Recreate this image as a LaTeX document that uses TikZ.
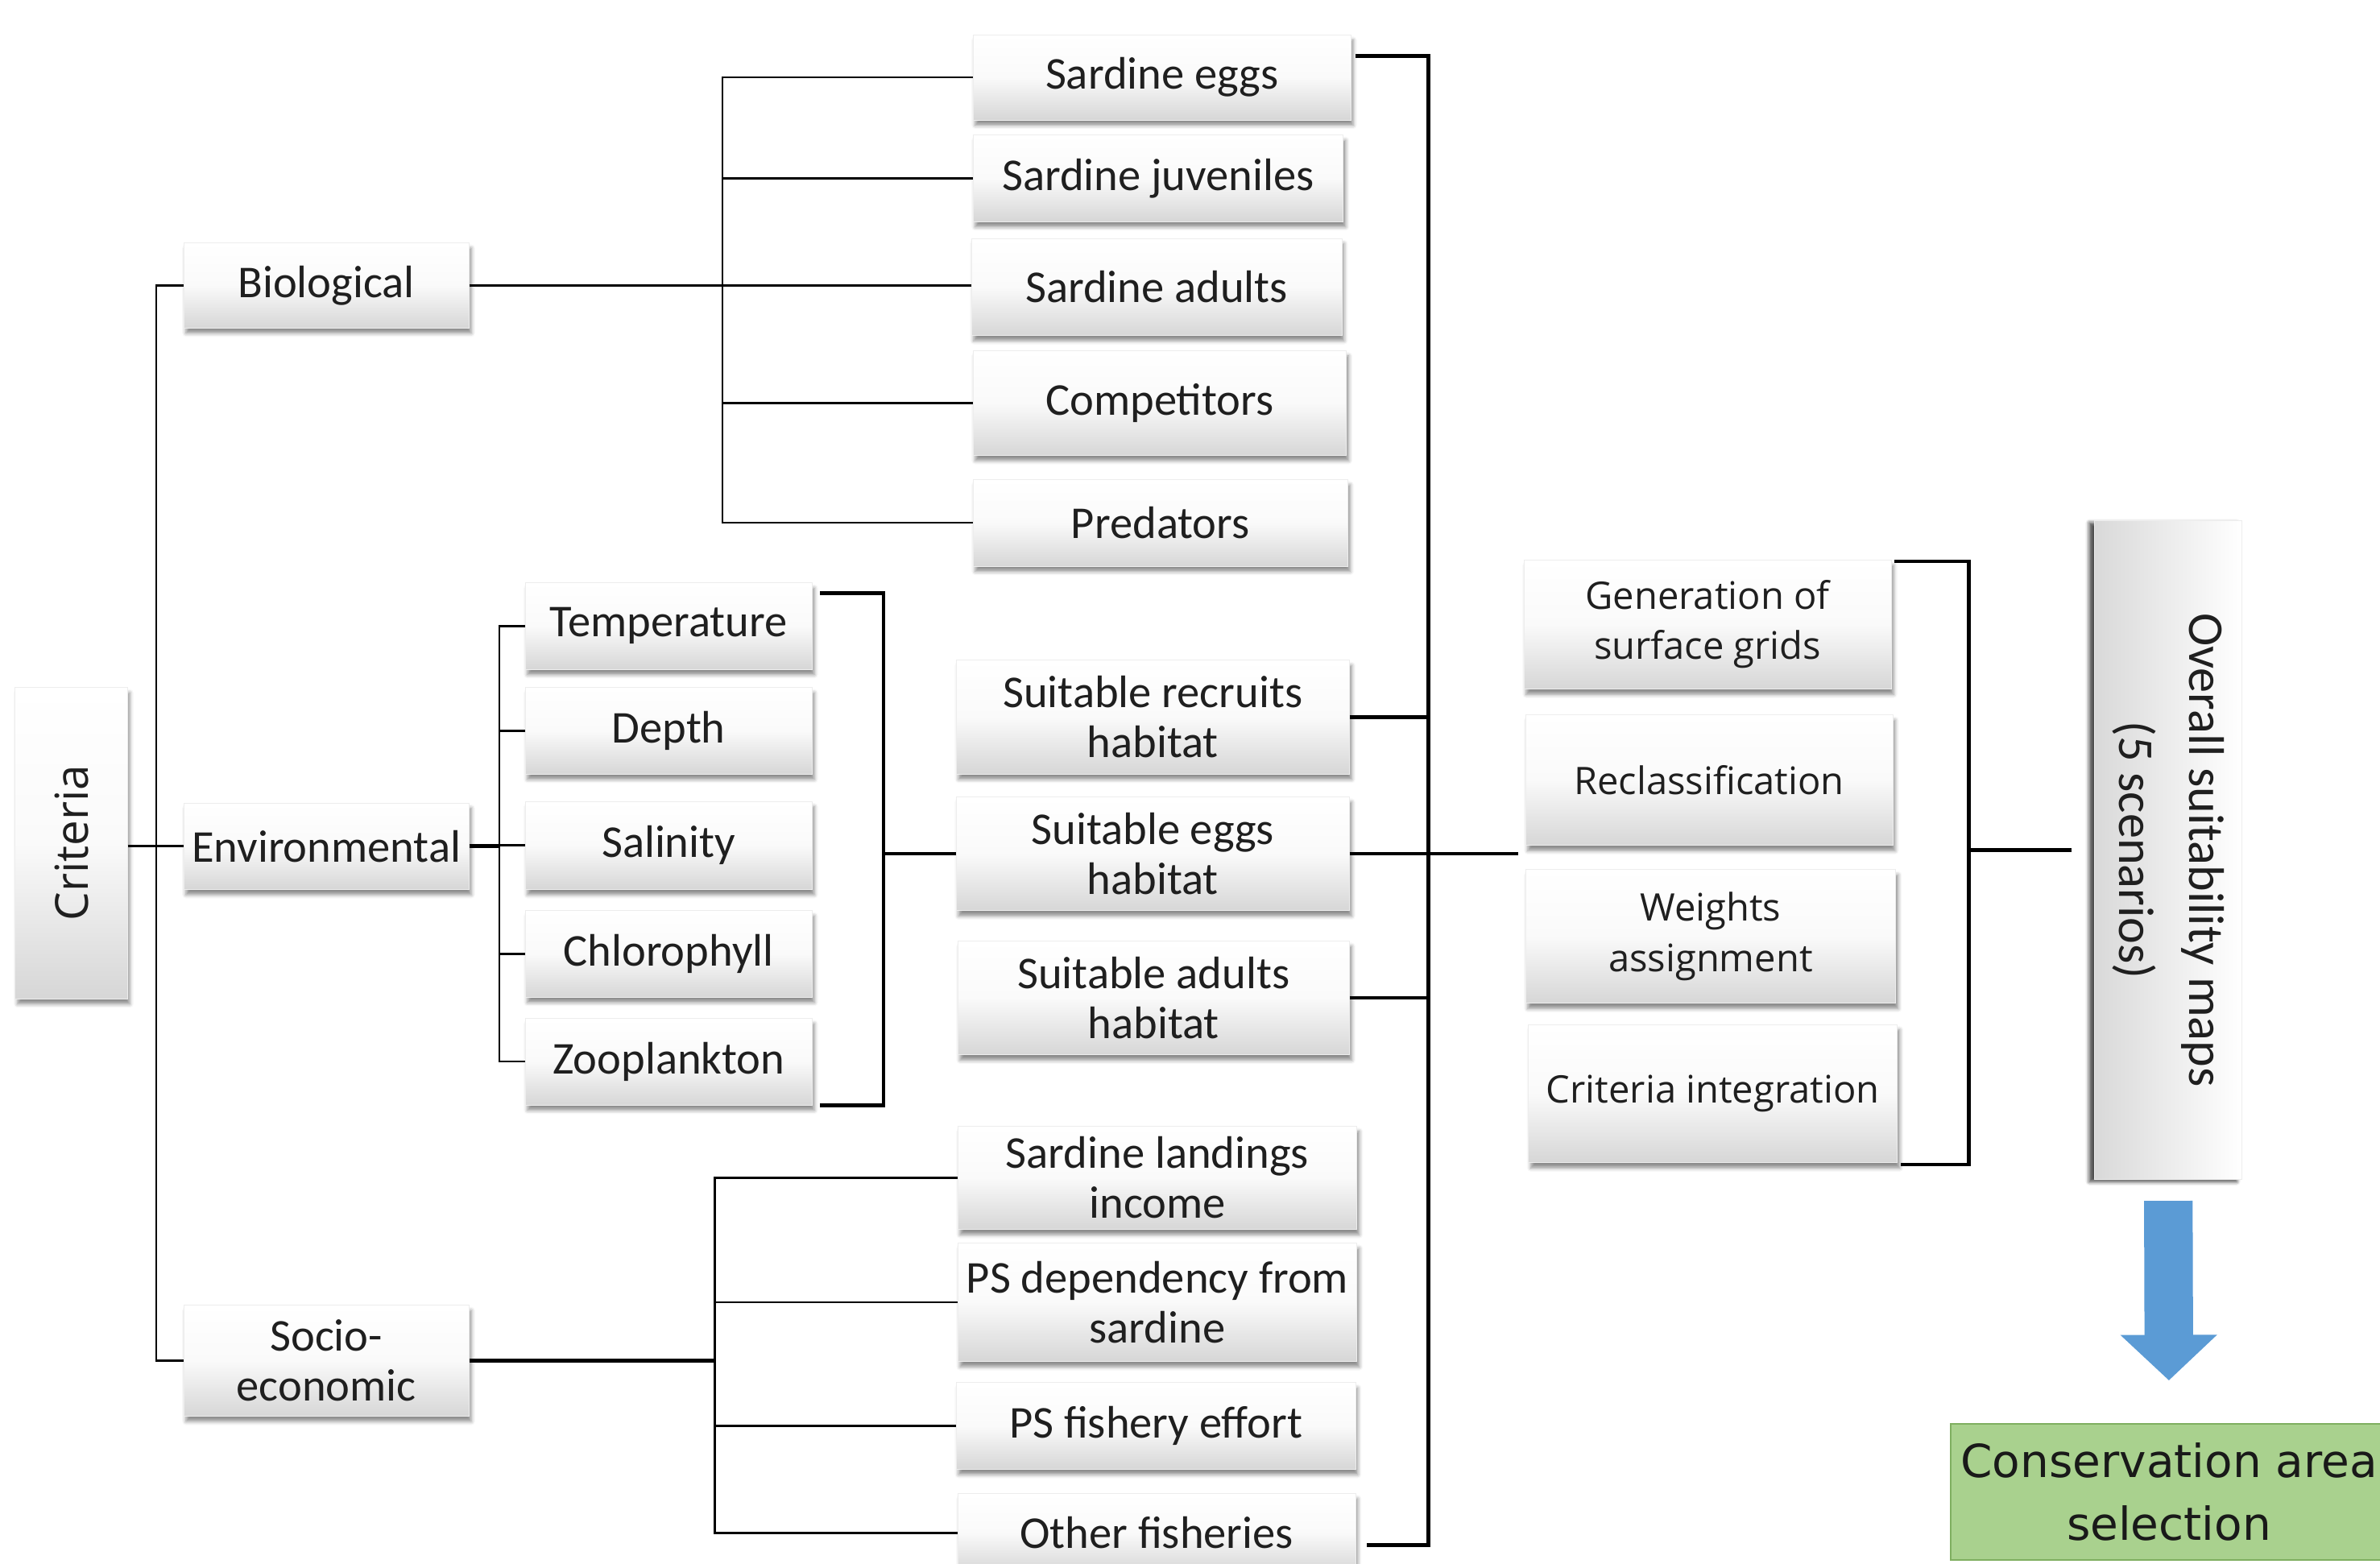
\documentclass[tikz,border=0pt]{standalone}
\usepackage{fontspec}
\setmainfont{Carlito}
\newfontfamily\segf{Open Sans}
\newfontfamily\verdf{DejaVu Sans}
\usetikzlibrary{calc,shadows.blur,arrows.meta}
\definecolor{arrowblue}{HTML}{5B9BD5}
\definecolor{consgreen}{HTML}{A9D18E}
\definecolor{consedge}{HTML}{7FAF60}
\tikzset{
  box/.style={draw=black!7, line width=0.4pt, top color=white, bottom color=black!16, middle color=black!2,
    inner sep=0pt, align=center, text=black!88,
    font=\fontsize{30}{33}\selectfont,
    blur shadow={shadow xshift=1.5pt, shadow yshift=-3.5pt, shadow blur radius=2.5pt, shadow opacity=45}},
  segbox/.style={box, font=\segf\fontsize{25}{33}\selectfont},
  thinline/.style={line width=1.3pt, black},
  thickline/.style={line width=2.4pt, black},
}
\begin{document}
\begin{tikzpicture}[x=1pt,y=-1pt]
\useasboundingbox (0,0) rectangle (1568,1030);

% left column
\node[box, minimum width=74pt, minimum height=205pt, font=\segf\fontsize{30}{33}\selectfont] (crit) at (47,555.5) {\rotatebox{90}{Criteria}};
\node[box, minimum width=188pt, minimum height=56pt] (bio) at (215,188) {Biological};
\node[box, minimum width=188pt, minimum height=57pt] (env) at (215,557.5) {Environmental};
\node[box, minimum width=188pt, minimum height=73pt] (soc) at (215,896.5) {Socio-\\economic};

% biological
\node[box, minimum width=249pt, minimum height=56pt] (eggs) at (765.5,51) {Sardine eggs};
\node[box, minimum width=244pt, minimum height=57pt] (juv) at (763,117.5) {Sardine juveniles};
\node[box, minimum width=244pt, minimum height=64pt] (adu) at (762,189) {Sardine adults};
\node[box, minimum width=246pt, minimum height=69pt] (comp) at (764,265.5) {Competitors};
\node[box, minimum width=247pt, minimum height=57pt] (pred) at (764.5,344.5) {Predators};

% environmental
\node[box, minimum width=189pt, minimum height=57pt] (temp) at (440.5,412.5) {Temperature};
\node[box, minimum width=189pt, minimum height=57pt] (depth) at (440.5,481.5) {Depth};
\node[box, minimum width=189pt, minimum height=58pt] (sal) at (440.5,557) {Salinity};
\node[box, minimum width=189pt, minimum height=57pt] (chl) at (440.5,628.5) {Chlorophyll};
\node[box, minimum width=189pt, minimum height=57pt] (zoo) at (440.5,699.5) {Zooplankton};

% habitats
\node[box, minimum width=259pt, minimum height=75pt] (rec) at (759.5,472.5) {Suitable recruits\\habitat};
\node[box, minimum width=259pt, minimum height=75pt] (egh) at (759.5,562.5) {Suitable eggs\\habitat};
\node[box, minimum width=258pt, minimum height=75pt] (adh) at (760,657.5) {Suitable adults\\habitat};

% socio-economic
\node[box, minimum width=263pt, minimum height=68pt] (land) at (762.5,776) {Sardine landings\\income};
\node[box, minimum width=263pt, minimum height=78pt] (dep) at (762.5,858) {PS dependency from\\sardine};
\node[box, minimum width=263pt, minimum height=57pt] (eff) at (761.5,939.5) {PS fishery effort};
\node[box, minimum width=262pt, minimum height=52pt] (oth) at (762,1010) {Other fisheries};

% process column
\node[segbox, minimum width=242pt, minimum height=85pt] (gen) at (1125,411.5) {Generation of\\surface grids};
\node[segbox, minimum width=242pt, minimum height=86pt] (recl) at (1126,514) {Reclassification};
\node[segbox, minimum width=244pt, minimum height=88pt] (wei) at (1127,617) {Weights\\assignment};
\node[segbox, minimum width=243pt, minimum height=91pt] (cint) at (1128.5,720.5) {Criteria integration};

% overall maps
\node[box, left color=black!15, right color=white, minimum width=97pt, minimum height=434pt,
  font=\fontsize{33}{46}\selectfont,
  blur shadow={shadow xshift=-3.5pt, shadow yshift=-1.5pt, shadow blur radius=2.5pt, shadow opacity=45}]
  (over) at (1428.5,560) {\rotatebox{-90}{\begin{tabular}{@{}c@{}}Overall suitability maps\\(5 scenarios)\end{tabular}}};

% conservation
\node[draw=consedge, line width=1pt, fill=consgreen, inner sep=0pt, align=center, text=black!90,
  minimum width=288pt, minimum height=90pt, font=\verdf\fontsize{30}{41}\selectfont]
  (cons) at (1429,983) {Conservation area\\selection};

% ---- connectors ----
\coordinate (cj) at (103,557.5);
\draw[thinline] (env.west -| crit.east) -- (env.west);
\draw[thinline] (bio.west) -| (cj) |- (soc.west);

\coordinate (bj) at (476,188);
\draw[thinline] (bio.east) -- (bio.east -| adu.west);
\draw[thinline] (eggs.west) -| (bj) |- (pred.west);
\draw[thinline] (juv.west) -- (juv.west -| bj);
\draw[thinline] (comp.west) -- (comp.west -| bj);

\coordinate (ej) at (329,557.5);
\draw[thickline] (env.east) -- (ej);
\draw[thinline] (temp.west) -| (ej) |- (zoo.west);
\draw[thinline] (depth.west) -- (depth.west -| ej);
\draw[thinline] (sal.west) -- (sal.west -| ej);
\draw[thinline] (chl.west) -- (chl.west -| ej);

\coordinate (eb) at (582,562.5);
\draw[thickline] ($(temp.north east)+(5,7)$) -| (eb) |- ($(zoo.south east)+(5,0)$);
\draw[thickline] (eb) -- (egh.west);

\coordinate (bb) at (941,562.5);
\coordinate (bx) at (1000,562.5);
\draw[thickline] ($(eggs.east)+(3,-14)$) -| (bb) |- ($(oth.east)+(7,8)$);
\draw[thickline] (rec.east) -- (rec.east -| bb);
\draw[thickline] (adh.east) -- (adh.east -| bb);
\draw[thickline] (egh.east) -- (bx);

\coordinate (sj) at (471,896.5);
\draw[thickline] (soc.east) -- (sj);
\draw[thinline] (land.west) -| (sj) |- (oth.west);
\draw[thinline] (dep.west) -- (dep.west -| sj);
\draw[thinline] (eff.west) -- (eff.west -| sj);

\coordinate (rb) at (1297,560);
\coordinate (rx) at (1365,560);
\draw[thickline] ($(gen.north east)+(2,1)$) -| (rb) |- ($(cint.south east)+(2,1)$);
\draw[thickline] (rb) -- (rx);

\draw[line width=32pt, arrowblue, shorten <=14pt, shorten >=28pt,
  -{Triangle[width=62pt,length=30pt]}] (over.south) -- (cons.north);
\end{tikzpicture}
\end{document}
